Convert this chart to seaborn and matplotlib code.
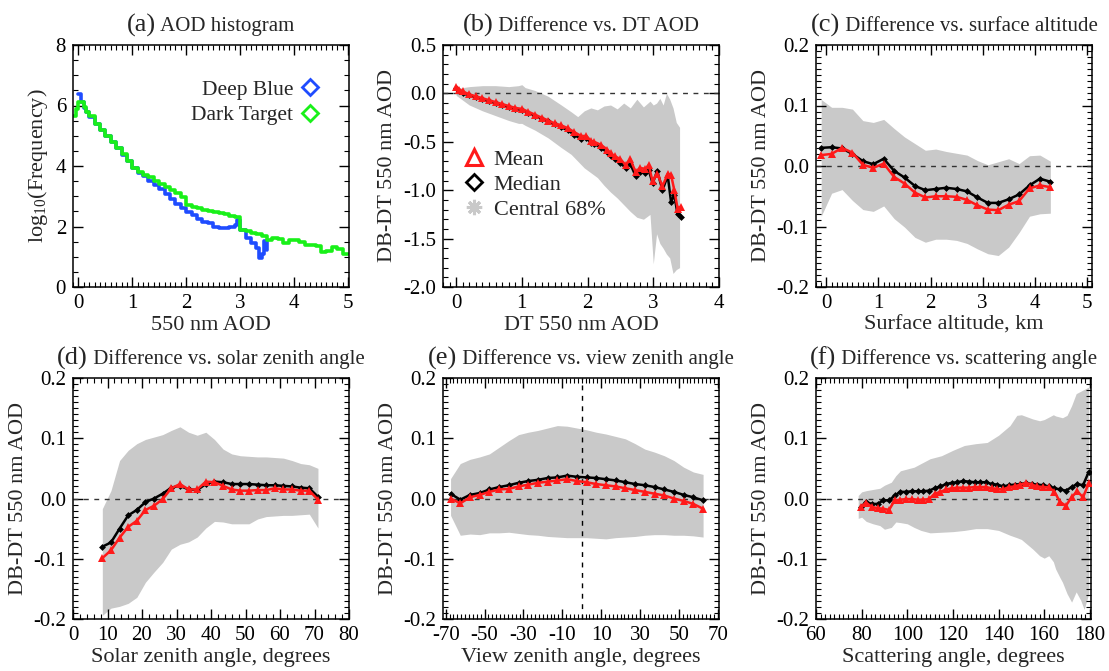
import numpy as np
import pandas as pd
import matplotlib
matplotlib.use("Agg")
import matplotlib.pyplot as plt
import seaborn as sns
from matplotlib.ticker import MultipleLocator, FixedLocator, FormatStrFormatter
from matplotlib.lines import Line2D
from matplotlib.offsetbox import TextArea, HPacker, AnchoredOffsetbox

# ---------------- data ----------------
# (a) histogram, bin left edges and log10 frequency
dt_hist_x = [-0.1, -0.05, 0.0, 0.05, 0.1, 0.15, 0.2, 0.3, 0.4, 0.5, 0.6, 0.7, 0.8, 0.9, 1.0,
             1.1, 1.2, 1.3, 1.4, 1.5, 1.6, 1.7, 1.8, 1.9, 2.0, 2.1, 2.2, 2.3, 2.4, 2.5, 2.6,
             2.7, 2.8, 2.9, 3.0, 3.1, 3.2, 3.3, 3.4, 3.5, 3.6, 3.7, 3.8, 3.9, 4.0, 4.1, 4.2,
             4.3, 4.4, 4.5, 4.6, 4.7, 4.8, 4.9, 5.0]
dt_hist_y = [5.65, 5.9, 6.12, 6.1, 5.95, 5.8, 5.65, 5.4, 5.2, 4.98, 4.8, 4.6, 4.4, 4.15, 3.92,
             3.8, 3.7, 3.62, 3.5, 3.42, 3.32, 3.2, 3.1, 2.97, 2.7, 2.65, 2.6, 2.55, 2.52, 2.47, 2.43,
             2.4, 2.36, 2.3, 1.88, 1.85, 1.8, 1.74, 1.68, 1.56, 1.62, 1.6, 1.45, 1.55, 1.55, 1.5, 1.4,
             1.38, 1.34, 1.16, 1.2, 1.33, 1.27, 1.1, 1.1]
db_hist_x = [0.0, 0.05, 0.1, 0.15, 0.2, 0.3, 0.4, 0.5, 0.6, 0.7, 0.8, 0.9, 1.0, 1.1, 1.2, 1.3,
             1.4, 1.5, 1.6, 1.7, 1.8, 1.9, 2.0, 2.1, 2.2, 2.3, 2.4, 2.5, 2.6, 2.7, 2.8, 2.9,
             2.95, 3.0, 3.1, 3.2, 3.3, 3.35, 3.4, 3.45, 3.5]
db_hist_y = [6.38, 6.12, 5.92, 5.78, 5.62, 5.38, 5.18, 4.98, 4.8, 4.58, 4.38, 4.15, 3.92, 3.78, 3.66, 3.52,
             3.38, 3.25, 3.08, 2.92, 2.75, 2.6, 2.48, 2.38, 2.25, 2.16, 2.12, 2.0, 1.96, 1.95, 1.97, 2.05,
             2.2, 1.88, 1.62, 1.45, 1.3, 0.95, 1.08, 1.52, 1.22]

# (b) difference vs DT AOD
b_x = [0.0, 0.05, 0.1, 0.2, 0.3, 0.4, 0.5, 0.6, 0.7, 0.8, 0.9, 1.0, 1.1, 1.2, 1.3, 1.4, 1.5, 1.6,
       1.7, 1.8, 1.9, 1.98, 2.05, 2.1, 2.2, 2.3, 2.35, 2.42, 2.5, 2.58, 2.65, 2.73, 2.8, 2.88,
       2.93, 2.99, 3.06, 3.14, 3.22, 3.27, 3.32, 3.37, 3.42]
b_mean = [0.07, 0.04, 0.02, -0.01, -0.03, -0.05, -0.07, -0.09, -0.11, -0.13, -0.15, -0.16, -0.19,
          -0.22, -0.25, -0.28, -0.31, -0.33, -0.36, -0.40, -0.44, -0.44, -0.49, -0.50, -0.53, -0.58,
          -0.62, -0.65, -0.68, -0.74, -0.68, -0.81, -0.77, -0.78, -0.74, -0.91, -0.83, -0.96, -0.83,
          -0.84, -1.0, -1.19, -1.17]
b_median = [0.06, 0.02, 0.0, -0.02, -0.04, -0.06, -0.08, -0.10, -0.12, -0.14, -0.16, -0.17, -0.20,
            -0.23, -0.26, -0.29, -0.32, -0.35, -0.38, -0.43, -0.47, -0.46, -0.51, -0.52, -0.56, -0.61,
            -0.65, -0.68, -0.72, -0.77, -0.73, -0.85, -0.81, -0.82, -0.79, -0.93, -0.80, -1.0, -0.85,
            -1.12, -1.05, -1.25, -1.28]
b_band_x = [0.0, 0.2, 0.4, 0.6, 0.8, 0.95, 1.0, 1.05, 1.2, 1.4, 1.6, 1.75, 1.85, 1.95, 2.05, 2.15,
            2.25, 2.35, 2.45, 2.55, 2.65, 2.75, 2.85, 2.95, 3.0, 3.05, 3.1, 3.15, 3.2, 3.25, 3.3, 3.35, 3.4]
b_upper = [0.05, 0.07, 0.08, 0.08, 0.07, 0.08, 0.09, 0.06, 0.03, -0.03, -0.12, -0.19, -0.24, -0.18,
           -0.15, -0.17, -0.13, -0.12, -0.16, -0.1, -0.15, -0.06, -0.14, -0.08, -0.12, -0.1, -0.05,
           -0.12, 0.0, -0.06, -0.15, -0.3, -0.35]
b_lower = [-0.02, -0.12, -0.18, -0.23, -0.28, -0.31, -0.31, -0.33, -0.38, -0.46, -0.56, -0.63, -0.7,
           -0.77, -0.82, -0.87, -0.95, -1.02, -1.08, -1.15, -1.22, -1.28, -1.3, -1.25, -1.76, -1.45,
           -1.55, -1.6, -1.66, -1.7, -1.86, -1.82, -1.8]

# (c) difference vs surface altitude
c_x = [-0.1, 0.1, 0.3, 0.5, 0.7, 0.9, 1.1, 1.3, 1.5, 1.7, 1.9, 2.1, 2.3, 2.5, 2.7, 2.9, 3.1, 3.3,
       3.5, 3.7, 3.9, 4.1, 4.3]
c_median = [0.030, 0.031, 0.029, 0.020, 0.008, 0.003, 0.012, -0.008, -0.019, -0.033, -0.040, -0.038,
            -0.036, -0.038, -0.042, -0.052, -0.061, -0.061, -0.055, -0.047, -0.032, -0.021, -0.026]
c_mean = [0.018, 0.020, 0.030, 0.022, 0.002, -0.003, 0.004, -0.018, -0.029, -0.044, -0.052, -0.050,
          -0.050, -0.051, -0.056, -0.065, -0.072, -0.073, -0.064, -0.058, -0.037, -0.032, -0.035]
c_upper = [0.110, 0.097, 0.097, 0.094, 0.075, 0.072, 0.077, 0.062, 0.048, 0.037, 0.026, 0.028, 0.024,
           0.021, 0.018, 0.009, 0.002, 0.007, 0.012, 0.004, 0.017, 0.018, 0.008]
c_lower = [-0.083, -0.045, -0.039, -0.057, -0.072, -0.075, -0.066, -0.087, -0.101, -0.118, -0.126,
           -0.121, -0.121, -0.123, -0.128, -0.137, -0.145, -0.148, -0.134, -0.110, -0.083, -0.079, -0.078]

# (d) difference vs solar zenith angle
d_x = [8.5, 11, 13.5, 16, 18.5, 21, 23.5, 26, 28.5, 31, 33.5, 36, 38.5, 41, 43.5, 46, 48.5, 51,
       53.5, 56, 58.5, 61, 63.5, 66, 68.5, 71]
d_median = [-0.080, -0.073, -0.050, -0.028, -0.019, -0.006, 0.0, 0.008, 0.018, 0.021, 0.015, 0.014,
            0.024, 0.028, 0.027, 0.024, 0.024, 0.024, 0.023, 0.022, 0.022, 0.021, 0.020, 0.018, 0.017, 0.003]
d_mean = [-0.099, -0.086, -0.065, -0.047, -0.037, -0.019, -0.012, -0.001, 0.017, 0.024, 0.015, 0.015,
          0.028, 0.027, 0.021, 0.015, 0.013, 0.013, 0.014, 0.014, 0.017, 0.015, 0.015, 0.013, 0.013, -0.002]
d_upper = [-0.017, 0.013, 0.063, 0.080, 0.091, 0.098, 0.102, 0.106, 0.113, 0.119, 0.110, 0.105, 0.110,
           0.098, 0.082, 0.074, 0.071, 0.070, 0.069, 0.069, 0.068, 0.067, 0.063, 0.058, 0.056, 0.050]
d_lower = [-0.194, -0.182, -0.179, -0.174, -0.164, -0.139, -0.122, -0.106, -0.084, -0.076, -0.072,
           -0.064, -0.049, -0.038, -0.039, -0.042, -0.042, -0.042, -0.034, -0.030, -0.029, -0.028,
           -0.028, -0.027, -0.026, -0.049]

# (e) difference vs view zenith angle
e_x = [-67.5, -62.5, -57.5, -52.5, -47.5, -42.5, -37.5, -32.5, -27.5, -22.5, -17.5, -12.5, -7.5,
       -2.5, 2.5, 7.5, 12.5, 17.5, 22.5, 27.5, 32.5, 37.5, 42.5, 47.5, 52.5, 57.5, 62.5]
e_median = [0.008, -0.002, 0.006, 0.009, 0.015, 0.019, 0.022, 0.026, 0.029, 0.031, 0.034, 0.035, 0.038,
            0.036, 0.035, 0.034, 0.032, 0.030, 0.027, 0.024, 0.022, 0.019, 0.015, 0.011, 0.006, 0.002, -0.003]
e_mean = [0.0, -0.008, 0.002, 0.006, 0.011, 0.015, 0.016, 0.020, 0.023, 0.026, 0.028, 0.030, 0.032,
          0.029, 0.027, 0.024, 0.022, 0.020, 0.017, 0.014, 0.011, 0.008, 0.005, 0.0, -0.004, -0.009, -0.017]
e_upper = [0.033, 0.058, 0.065, 0.069, 0.074, 0.085, 0.096, 0.106, 0.110, 0.113, 0.117, 0.121, 0.120,
           0.117, 0.114, 0.110, 0.107, 0.103, 0.099, 0.091, 0.082, 0.077, 0.071, 0.063, 0.052, 0.044, 0.040]
e_lower = [-0.028, -0.061, -0.059, -0.060, -0.057, -0.057, -0.056, -0.058, -0.060, -0.061, -0.063,
           -0.064, -0.065, -0.065, -0.065, -0.066, -0.067, -0.065, -0.064, -0.063, -0.061, -0.060,
           -0.060, -0.061, -0.061, -0.062, -0.064]

# (f) difference vs scattering angle
f_x = [79.5, 82, 84.5, 87, 89.5, 92, 94.5, 97, 99.5, 102, 104.5, 107, 109.5, 112, 114.5, 117, 119.5,
       122, 124.5, 127, 129.5, 132, 134.5, 137, 139.5, 142, 144.5, 147, 149.5, 152, 154.5, 157,
       159.5, 162, 164.5, 167, 169.5, 172, 174.5, 177, 179.5]
f_median = [-0.014, -0.006, -0.009, -0.009, -0.003, -0.003, 0.005, 0.011, 0.011, 0.012, 0.012, 0.012,
            0.013, 0.017, 0.020, 0.024, 0.026, 0.027, 0.029, 0.028, 0.027, 0.027, 0.027, 0.024, 0.023,
            0.020, 0.022, 0.023, 0.024, 0.026, 0.024, 0.023, 0.022, 0.020, 0.017, 0.015, 0.013, 0.019,
            0.024, 0.022, 0.044]
f_mean = [-0.014, -0.007, -0.014, -0.016, -0.017, -0.019, -0.003, -0.002, -0.001, -0.001, -0.002,
          -0.002, -0.001, 0.008, 0.011, 0.015, 0.017, 0.018, 0.018, 0.018, 0.019, 0.019, 0.019, 0.017,
          0.016, 0.015, 0.019, 0.020, 0.023, 0.026, 0.023, 0.020, 0.019, 0.019, 0.011, -0.006, -0.012,
          0.002, 0.012, 0.002, 0.025]
f_band_x = [78.5, 80, 82, 85, 88, 90, 93, 95, 97, 100, 103, 106, 110, 115, 120, 125, 130, 135, 140,
            145, 148, 150, 155, 158, 160, 162, 164, 165, 167, 168, 170, 172, 174, 176, 177.5, 179.5]
f_upper = [0.005, 0.011, 0.013, 0.015, 0.017, 0.022, 0.027, 0.038, 0.046, 0.049, 0.052, 0.058, 0.066,
           0.071, 0.080, 0.088, 0.091, 0.093, 0.105, 0.121, 0.138, 0.139, 0.132, 0.129, 0.131, 0.135,
           0.139, 0.137, 0.135, 0.134, 0.138, 0.154, 0.174, 0.178, 0.181, 0.185]
f_lower = [-0.033, -0.031, -0.038, -0.042, -0.045, -0.051, -0.048, -0.039, -0.040, -0.042, -0.048,
           -0.053, -0.057, -0.056, -0.055, -0.053, -0.050, -0.050, -0.053, -0.061, -0.065, -0.068,
           -0.084, -0.095, -0.099, -0.095, -0.105, -0.117, -0.132, -0.139, -0.158, -0.172, -0.155,
           -0.169, -0.184, -0.158]

titles = [("(a)", " AOD histogram"), ("(b)", " Difference vs. DT AOD"),
          ("(c)", " Difference vs. surface altitude"), ("(d)", " Difference vs. solar zenith angle"),
          ("(e)", " Difference vs. view zenith angle"), ("(f)", " Difference vs. scattering angle")]
xlabels = ["550 nm AOD", "DT 550 nm AOD", "Surface altitude, km", "Solar zenith angle, degrees",
           "View zenith angle, degrees", "Scattering angle, degrees"]
ylab_diff = "DB-DT 550 nm AOD"

# ---------------- style ----------------
sns.set_theme(style="ticks")
SERIF = ["Liberation Serif", "DejaVu Serif"]
plt.rcParams["font.family"] = SERIF
plt.rcParams["mathtext.fontset"] = "custom"
plt.rcParams["mathtext.rm"] = "Liberation Serif"
plt.rcParams["mathtext.it"] = "Liberation Serif:italic"
plt.rcParams["axes.unicode_minus"] = False

RED = "#ff1a1a"
BLACK = "#000000"
BAND = "#c9c9c9"
BLUE = "#1f4cff"
GREEN = "#19f019"

fig = plt.figure(figsize=(11.09, 6.71), dpi=100)
W, H = 1109.0, 671.0

def make_ax(l, r, t, b):
    return fig.add_axes([l / W, 1 - b / H, (r - l) / W, (b - t) / H])

ax_a = make_ax(73, 349, 45, 287)
ax_b = make_ax(443, 719, 45, 287)
ax_c = make_ax(816, 1092, 45, 287)
ax_d = make_ax(73, 349, 378, 619)
ax_e = make_ax(443, 719, 378, 619)
ax_f = make_ax(816, 1091, 378, 619)
axes = [ax_a, ax_b, ax_c, ax_d, ax_e, ax_f]

def style_ax(ax, xmaj, xmin, ymaj, ymin, yfmt=None):
    if isinstance(xmaj, (list, tuple)):
        ax.xaxis.set_major_locator(FixedLocator(xmaj))
    else:
        ax.xaxis.set_major_locator(MultipleLocator(xmaj))
    ax.xaxis.set_minor_locator(MultipleLocator(xmin))
    ax.yaxis.set_major_locator(MultipleLocator(ymaj))
    ax.yaxis.set_minor_locator(MultipleLocator(ymin))
    if yfmt:
        ax.yaxis.set_major_formatter(FormatStrFormatter(yfmt))
    ax.tick_params(which="both", direction="in", top=True, right=True,
                   labelsize=15, colors="black")
    ax.tick_params(which="major", length=7, width=1.0, pad=5)
    ax.tick_params(which="minor", length=3.5, width=0.8)
    for lab in ax.get_xticklabels() + ax.get_yticklabels():
        lab.set_family(SERIF)
    for s in ax.spines.values():
        s.set_linewidth(1.1)
        s.set_color("black")
        s.set_visible(True)

def set_title(ax, a, rest):
    box = HPacker(children=[TextArea(a, textprops=dict(size=19, family=SERIF)),
                            TextArea(rest, textprops=dict(size=15, family=SERIF))],
                  align="baseline", pad=0, sep=0)
    ab = AnchoredOffsetbox(loc="lower center", child=box, pad=0, borderpad=0,
                           bbox_to_anchor=(0.5, 1.035), bbox_transform=ax.transAxes,
                           frameon=False)
    ax.add_artist(ab)

# ---------------- panel (a) ----------------
sns.lineplot(x=dt_hist_x, y=dt_hist_y, ax=ax_a, color=GREEN, lw=2.6, drawstyle="steps-post",
             errorbar=None, sort=False, zorder=2)
sns.lineplot(x=db_hist_x, y=db_hist_y, ax=ax_a, color=BLUE, lw=2.6, drawstyle="steps-post",
             errorbar=None, sort=False, zorder=1)
ax_a.set_xlim(-0.1, 5.02)
ax_a.set_ylim(0, 8)
style_ax(ax_a, 1, 0.1, 2, 0.5)
ax_a.set_ylabel("log$_{10}$(Frequency)", fontsize=16)
h_a = [Line2D([], [], ls="none", marker="D", ms=8, mfc="none", mec=BLUE, mew=2),
       Line2D([], [], ls="none", marker="D", ms=8, mfc="none", mec=GREEN, mew=2)]
ax_a.legend(h_a, ["Deep Blue", "Dark Target"], loc="upper right", bbox_to_anchor=(0.93, 0.9),
            markerfirst=False, frameon=False, fontsize=15.5, handlelength=0.8,
            handletextpad=0.4, borderpad=0, labelspacing=0.25)

# ---------------- difference panels ----------------
def diff_panel(ax, x, mean, median, bx, lo, hi):
    ax.fill_between(bx, lo, hi, color=BAND, lw=0, zorder=0)
    ax.axhline(0, color="#333333", lw=1.0, ls=(0, (3.5, 4)), zorder=1)
    sns.lineplot(x=x, y=median, ax=ax, color=BLACK, lw=1.8, marker="D", ms=3.5, mew=0,
                 errorbar=None, sort=False, zorder=3)
    sns.lineplot(x=x, y=mean, ax=ax, color=RED, lw=1.8, marker="^", ms=5.5, mew=0,
                 errorbar=None, sort=False, zorder=4)
    ax.set_ylabel(ylab_diff, fontsize=16)

diff_panel(ax_b, b_x, b_mean, b_median, b_band_x, b_lower, b_upper)
ax_b.set_xlim(-0.2, 4)
ax_b.set_ylim(-2.0, 0.5)
style_ax(ax_b, 1, 0.1, 0.5, 0.1, "%.1f")
h_b = [Line2D([], [], ls="none", marker="^", ms=11, mfc="none", mec=RED, mew=2.2),
       Line2D([], [], ls="none", marker="D", ms=8, mfc="none", mec=BLACK, mew=2),
       Line2D([], [], ls="none", marker=(8, 2, 0), ms=11, color=BAND, mew=2.2)]
ax_b.legend(h_b, ["Mean", "Median", "Central 68%"], loc="upper left", bbox_to_anchor=(0.03, 0.615),
            frameon=False, fontsize=16, handlelength=1.0, handletextpad=0.4, borderpad=0,
            labelspacing=0.2)

diff_panel(ax_c, c_x, c_mean, c_median, c_x, c_lower, c_upper)
ax_c.set_xlim(-0.2, 5.1)
ax_c.set_ylim(-0.2, 0.2)
style_ax(ax_c, 1, 0.1, 0.1, 0.01, "%.1f")

diff_panel(ax_d, d_x, d_mean, d_median, d_x, d_lower, d_upper)
ax_d.set_xlim(0, 80)
ax_d.set_ylim(-0.2, 0.2)
style_ax(ax_d, 10, 2, 0.1, 0.01, "%.1f")

diff_panel(ax_e, e_x, e_mean, e_median, e_x, e_lower, e_upper)
ax_e.axvline(0, color="black", lw=1.0, ls=(0, (3.5, 4)), zorder=1)
ax_e.set_xlim(-71.4, 70.7)
ax_e.set_ylim(-0.2, 0.2)
style_ax(ax_e, [-70, -50, -30, -10, 10, 30, 50, 70], 2, 0.1, 0.01, "%.1f")

diff_panel(ax_f, f_x, f_mean, f_median, f_band_x, f_lower, f_upper)
ax_f.set_xlim(60, 180.5)
ax_f.set_ylim(-0.2, 0.2)
style_ax(ax_f, 20, 2, 0.1, 0.01, "%.1f")

for ax, (a, rest), xl in zip(axes, titles, xlabels):
    set_title(ax, a, rest)
    ax.set_xlabel(xl, fontsize=16, labelpad=2)
    ax.yaxis.label.set_size(16)

fig.savefig("out.png", dpi=100)
